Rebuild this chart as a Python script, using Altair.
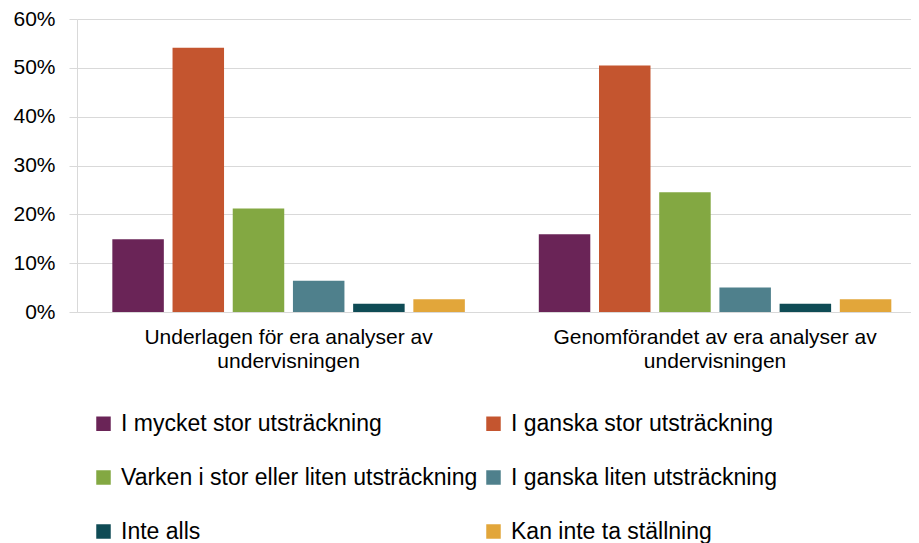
import altair as alt
import pandas as pd

categories = [
    "Underlagen för era analyser av\nundervisningen",
    "Genomförandet av era analyser av\nundervisningen",
]
series = [
    "I mycket stor utsträckning",
    "I ganska stor utsträckning",
    "Varken i stor eller liten utsträckning",
    "I ganska liten utsträckning",
    "Inte alls",
    "Kan inte ta ställning",
]
values_underlagen = [0.149, 0.541, 0.212, 0.064, 0.017, 0.026]
values_genomforandet = [0.159, 0.505, 0.245, 0.050, 0.017, 0.026]
colors = ["#6A2457", "#C4552F", "#83A842", "#4F808C", "#0F4B55", "#E2A63A"]
y_ticks = [0, 0.1, 0.2, 0.3, 0.4, 0.5, 0.6]

rows = []
for cat, vals in zip(categories, [values_underlagen, values_genomforandet]):
    for s, v in zip(series, vals):
        rows.append({"kategori": cat, "serie": s, "andel": v})
df = pd.DataFrame(rows)

FONT = "Liberation Sans"

chart = alt.Chart(df).mark_bar().encode(
    x=alt.X(
        "kategori:N",
        sort=categories,
        scale=alt.Scale(paddingInner=0.1, paddingOuter=0.0278, align=0.83),
        axis=alt.Axis(
            title=None,
            labelAngle=0,
            labelExpr=r"split(datum.label, '\n')",
            labelFontSize=21,
            labelLineHeight=24,
            labelPadding=14,
            labelBaseline="top",
            labelFont=FONT,
            labelColor="#000000",
            ticks=False,
            domainColor="#d9d9d9",
            domainWidth=1,
            labelLimit=600,
        ),
    ),
    xOffset=alt.XOffset(
        "serie:N", sort=series, scale=alt.Scale(paddingInner=0.1445, paddingOuter=0.26)
    ),
    y=alt.Y(
        "andel:Q",
        scale=alt.Scale(domain=[0, 0.6]),
        axis=alt.Axis(
            title=None,
            format=".0%",
            values=y_ticks,
            tickSize=8,
            tickColor="#d9d9d9",
            domainColor="#d9d9d9",
            gridColor="#d9d9d9",
            gridWidth=1,
            labelFontSize=21,
            labelFont=FONT,
            labelColor="#000000",
            labelPadding=14,
        ),
    ),
    color=alt.Color(
        "serie:N",
        sort=series,
        scale=alt.Scale(domain=series, range=colors),
        legend=alt.Legend(
            title=None,
            orient="none",
            direction="horizontal",
            legendX=15,
            legendY=393,
            columns=2,
            symbolType="square",
            symbolSize=210,
            symbolStrokeWidth=0,
            symbolOpacity=1,
            labelFontSize=23,
            labelFont=FONT,
            labelColor="#000000",
            labelOffset=6,
            labelLimit=600,
            rowPadding=30,
            columnPadding=4,
            padding=0,
        ),
    ),
).properties(
    width=834,
    height=293,
    autosize=alt.AutoSizeParams(type="none"),
    padding={"left": 69, "top": 11, "right": 0, "bottom": 236},
).configure_view(stroke=None)

chart.save("out.html", embed_options={"renderer": "svg", "actions": False})
